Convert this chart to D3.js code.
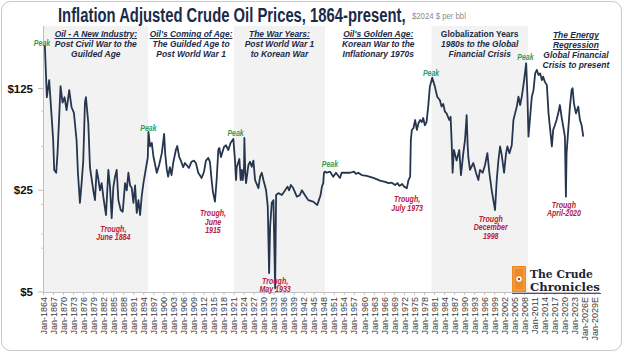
<!DOCTYPE html>
<html>
<head>
<meta charset="utf-8">
<script src="https://cdn.jsdelivr.net/npm/d3@7"></script>
<style>
  body { margin: 0; background: #fff; }
  svg { display: block; font-family: "Liberation Sans", Arial, sans-serif; }
</style>
</head>
<body>
<div id="chart"></div>
<script>
// Inflation adjusted crude oil price, $2024 per bbl
const years = [
  1864.4, 1865.0, 1865.7, 1866.5, 1866.9, 1867.2, 1867.8, 1868.2, 1869.1, 1869.7,
  1870.3, 1870.9, 1871.7, 1872.4, 1873.1, 1873.9, 1874.3, 1874.9, 1875.4, 1875.9,
  1876.4, 1876.7, 1877.4, 1877.9, 1878.9, 1879.4, 1879.9, 1880.4, 1880.9, 1881.4,
  1881.9, 1882.7, 1883.4, 1883.9, 1884.4, 1884.9, 1885.4, 1885.9, 1886.4, 1887.1,
  1887.7, 1888.4, 1888.9, 1889.4, 1889.9, 1890.4, 1890.9, 1891.4, 1891.9, 1892.4,
  1892.9, 1893.4, 1893.9, 1894.7, 1895.2, 1895.4,
  1895.9, 1896.4, 1896.9, 1897.9, 1898.6, 1899.4, 1900.1, 1900.4, 1900.9, 1901.3,
  1901.8, 1902.3, 1902.8, 1903.6, 1904.0, 1904.6, 1905.1, 1905.8, 1906.3, 1906.8,
  1907.5, 1908.3, 1909.0, 1909.6, 1910.3, 1911.3, 1912.0, 1912.6, 1913.3, 1913.8,
  1914.3, 1914.7, 1915.3, 1915.8, 1916.3, 1916.6, 1917.1, 1918.0, 1918.6, 1919.3,
  1920.0, 1920.8,
  1921.3, 1921.6, 1921.8, 1922.6, 1923.0, 1923.3, 1923.6, 1924.0, 1924.1, 1924.4,
  1924.6, 1925.3, 1925.8, 1926.3, 1926.8, 1927.3, 1928.3, 1928.8, 1929.3, 1929.8,
  1930.6, 1931.1, 1931.5, 1931.8, 1932.3, 1932.8, 1933.3, 1933.6, 1934.3, 1935.3,
  1936.3, 1937.0, 1937.5, 1938.0, 1938.7, 1939.8, 1940.7, 1941.3, 1942.2, 1943.2,
  1944.7, 1945.9, 1946.4, 1946.9, 1947.3, 1947.7, 1947.9, 1948.2,
  1948.7, 1949.7, 1950.7, 1951.5, 1952.7, 1953.2, 1954.2, 1955.7, 1956.9, 1957.5,
  1958.2, 1959.2, 1960.7, 1962.7, 1964.7, 1966.2, 1967.2, 1968.2, 1969.2, 1969.9,
  1970.5, 1971.3, 1971.9, 1972.7, 1973.2, 1973.7, 1973.9,
  1974.2, 1974.7, 1975.2, 1975.7, 1976.2, 1976.7, 1977.2, 1977.6, 1978.1, 1978.6,
  1979.1, 1979.6, 1980.3, 1981.1, 1981.8, 1982.6, 1983.1, 1983.6, 1984.1, 1984.6,
  1985.4, 1985.8, 1986.1, 1986.4, 1986.8, 1987.6, 1988.4, 1988.9, 1989.6, 1990.1,
  1990.6, 1990.9, 1991.1, 1991.6, 1992.6, 1993.4, 1994.1, 1994.6, 1995.4, 1996.1,
  1996.8, 1997.4, 1998.1, 1999.1, 1999.6, 2000.1, 2000.6, 2001.1, 2001.8, 2002.4,
  2002.8, 2003.4, 2004.1, 2004.6, 2005.6, 2006.1, 2006.6, 2007.1, 2007.8, 2008.4,
  2008.8, 2009.1,
  2009.6, 2010.1, 2010.6, 2011.1, 2011.6, 2012.1, 2012.6, 2013.1, 2013.5, 2014.0,
  2014.6, 2015.1, 2015.6, 2016.1, 2016.5, 2017.0, 2017.5, 2018.0, 2018.5, 2019.0,
  2019.5, 2020.0, 2020.3, 2020.5, 2021.0, 2021.5, 2022.0, 2022.3, 2022.7, 2023.3,
  2024.0, 2024.5, 2025.0, 2025.5
];
const prices = [
  249, 109, 143, 76, 55, 34.5, 33, 45, 130, 100,
  109, 89, 122, 93, 85, 55, 33, 20.5, 28, 40,
  100, 109, 72.5, 36, 25, 21.4, 34.5, 30, 25, 28,
  22.5, 16.9, 34.5, 26.3, 16.1, 26.3, 31, 34.5, 21.4, 18.3,
  17.8, 28, 25, 33, 27, 26, 20.5, 27, 17.5, 21.4,
  16.9, 23, 28, 36, 42, 63,
  50, 53, 42.5, 33, 37.3, 45, 61, 45, 34.5, 31,
  36, 31.8, 38.5, 47.3, 50.4, 42.5, 40, 36, 38.5, 37.3,
  35.6, 39.3, 40, 38.5, 33, 30.4, 33.4, 40, 41.7, 39.1,
  29.4, 24.3, 20.9, 29.4, 47.3, 48.8, 42.3, 49.6, 51, 47.3,
  53, 56.3,
  40, 29.4, 36, 41, 29.4, 34.5, 29.4, 36.3, 57.2, 31.8,
  28, 37.3, 39.3, 36.3, 40, 29.4, 25.9, 31, 33, 29.4,
  25, 19.3, 6.75, 14.1, 20.5, 21.4, 5.3, 23.2, 23.9, 23.2,
  25, 26.5, 25, 27.2, 25.9, 22.6, 23.2, 25, 23.2, 21.4,
  20.9, 19.8, 21.4, 23.2, 26.5, 28, 33, 33.6,
  33, 33.6, 31, 33, 30.4, 33, 33, 33, 33.6, 32.4,
  33, 31.8, 31.4, 30.4, 29.1, 28.6, 28, 28.2, 27.2, 28,
  26.8, 27.6, 26.5, 25.8, 29.4, 31, 55,
  64.9, 67, 76, 65, 72.5, 76, 73.6, 78.5, 70, 73.6,
  94, 129, 148.6, 129, 110, 104, 94, 98, 86.7, 84.5,
  76, 80, 55, 33, 47.3, 40, 47.3, 31.8, 45, 55,
  82, 51, 42.5, 34.5, 38.5, 33, 29.4, 34.5, 33, 37.3,
  45, 33, 25, 18.3, 29.4, 40, 50, 43.7, 33, 45,
  50, 45, 51, 76, 94, 110, 96.4, 110, 143, 186.6,
  110, 58.4,
  80, 110, 122, 159, 168, 155, 159, 143, 151, 139,
  132, 84.5, 65, 50, 65, 70, 76, 84.5, 96.4, 80,
  68.4, 58.4, 22.6, 45, 65, 94, 122, 125.6, 99, 84.5,
  94, 76, 70, 58.4
];

const tickLabels = [
  "Jan-1864", "Jan-1867", "Jan-1870", "Jan-1873", "Jan-1876", "Jan-1879", "Jan-1882", "Jan-1885",
  "Jan-1888", "Jan-1891", "Jan-1894", "Jan-1897", "Jan-1900", "Jan-1903", "Jan-1906", "Jan-1909",
  "Jan-1912", "Jan-1915", "Jan-1918", "Jan-1921", "Jan-1924", "Jan-1927", "Jan-1930", "Jan-1933",
  "Jan-1936", "Jan-1939", "Jan-1942", "Jan-1945", "Jan-1948", "Jan-1951", "Jan-1954", "Jan-1957",
  "Jan-1960", "Jan-1963", "Jan-1966", "Jan-1969", "Jan-1972", "Jan-1975", "Jan-1978", "Jan-1981",
  "Jan-1984", "Jan-1987", "Jan-1990", "Jan-1993", "Jan-1996", "Jan-1999", "Jan-2002", "Jan-2005",
  "Jan-2008", "Jan-2011", "Jan-2014", "Jan-2017", "Jan-2020", "Jan-2023", "Jan-2026E", "Jan-2029E"
];
const yTicks = [5, 25, 125];
const yMinorTicks = [10, 12.5, 20, 50, 87.5];

// eras
const eraStarts = [1864, 1895.3, 1921, 1948.2, 1980.1, 2008.9];
const eraTitles = [
  ["Oil - A New Industry:"],
  ["Oil's Coming of Age:"],
  ["The War Years:"],
  ["Oil's Golden Age:"],
  ["Globalization Years"],
  ["The Energy", "Regression"]
];
const eraText = [
  ["Post Civil War to the", "Guilded Age"],
  ["The Guilded Age to", "Post World War 1"],
  ["Post World War 1", "to Korean War"],
  ["Korean War to the", "Inflationary 1970s"],
  ["1980s to the Global", "Financial Crisis"],
  ["Global Financial", "Crisis to present"]
];

// annotations: [year, price] where the label sits
const peakAt = [[1863.55, 257], [1895.4, 67.5], [1921.45, 62.2], [1949.7, 37.9], [1979.95, 161], [2008.2, 207]];
const troughAt = [[1884.9, 13.6], [1914.7, 17.4], [1933.3, 5.95], [1972.8, 21.7], [1997.8, 15.9], [2019.7, 19.8]];
const troughText = [
  ["Trough,", "June 1884"],
  ["Trough,", "June", "1915"],
  ["Trough,", "May 1933"],
  ["Trough,", "July 1973"],
  ["Trough", "December", "1998"],
  ["Trough", "April-2020"]
];

const W = 624, H = 354;
const navy = "#1b2a47";

const svg = d3.select("#chart").append("svg")
  .attr("width", W)
  .attr("height", H);

// frame
svg.append("rect")
  .attr("x", 1.5).attr("y", 1.5)
  .attr("width", W - 4).attr("height", H - 5)
  .attr("rx", 9)
  .attr("fill", "#fff")
  .attr("stroke", "#c9c9c9");

const x = d3.scaleLinear().domain([1864, 2030.5]).range([43.5, 600]);
const y = d3.scaleLog().domain([5, 274]).range([292, 39]);

const plotTop = 26, plotBottom = 292;

// shaded era bands
eraStarts.forEach((s, i) => {
  if (i % 2 === 1) return;
  const e = eraStarts[i + 1];
  svg.append("rect")
    .attr("x", x(s))
    .attr("y", plotTop)
    .attr("width", x(e) - x(s))
    .attr("height", plotBottom - plotTop)
    .attr("fill", "#f2f2f2");
});

// squeeze a text horizontally so it spans the wanted width
function fitWidth(t, x0, y0, width) {
  const len = t.node().getComputedTextLength();
  t.attr("transform", `translate(${x0},${y0}) scale(${width / len},1)`);
  return t;
}

// title
const title = svg.append("text")
  .attr("font-size", 21)
  .attr("font-weight", "bold")
  .attr("fill", navy)
  .text("Inflation Adjusted Crude Oil Prices, 1864-present,");
fitWidth(title, 58, 22, 348);

const unit = svg.append("text")
  .attr("font-size", 8.5)
  .attr("fill", "#8c8c8c")
  .text("$2024 $ per bbl");
fitWidth(unit, 412, 19, 54);

// narrow text helper
function narrowText(g, cx, cy, str, opt) {
  return g.append("text")
    .attr("transform", `translate(${cx},${cy}) scale(${opt.sx || 0.82},1)`)
    .attr("text-anchor", "middle")
    .attr("font-size", opt.size)
    .attr("font-weight", "bold")
    .attr("font-style", opt.italic === false ? "normal" : "italic")
    .attr("fill", opt.color)
    .style("text-decoration", opt.underline ? "underline" : null)
    .text(str);
}

// era labels
const eraG = svg.append("g");
eraStarts.forEach((s, i) => {
  const x0 = x(s);
  const x1 = i + 1 < eraStarts.length ? x(eraStarts[i + 1]) : W;
  const cx = (x0 + x1) / 2;
  let by = i === 5 ? 38 : 37;
  eraTitles[i].forEach(t => {
    narrowText(eraG, cx, by, t, { size: 9.6, sx: 0.88, color: navy, underline: i !== 4, italic: i !== 4 });
    by += 10;
  });
  eraText[i].forEach(t => {
    narrowText(eraG, cx, by, t, { size: 9.6, sx: 0.88, color: navy });
    by += 10;
  });
});

// axes
svg.append("line")
  .attr("x1", 43.5).attr("x2", 43.5)
  .attr("y1", plotTop).attr("y2", plotBottom)
  .attr("stroke", "#bfbfbf");
svg.append("line")
  .attr("x1", 43.5).attr("x2", 600)
  .attr("y1", plotBottom + 0.5).attr("y2", plotBottom + 0.5)
  .attr("stroke", "#bfbfbf");

yTicks.forEach(v => {
  svg.append("line")
    .attr("x1", 38).attr("x2", 43.5)
    .attr("y1", y(v)).attr("y2", y(v))
    .attr("stroke", "#bfbfbf");
  svg.append("text")
    .attr("x", 33).attr("y", y(v))
    .attr("dy", "0.36em")
    .attr("text-anchor", "end")
    .attr("font-size", 11.5)
    .attr("font-weight", "bold")
    .attr("fill", "#111")
    .text("$" + v);
});
yMinorTicks.forEach(v => {
  svg.append("line")
    .attr("x1", 41).attr("x2", 43.5)
    .attr("y1", y(v)).attr("y2", y(v))
    .attr("stroke", "#c8c8c8");
});

tickLabels.forEach(lbl => {
  const yr = +lbl.slice(4, 8);
  const tx = x(yr);
  svg.append("line")
    .attr("x1", tx).attr("x2", tx)
    .attr("y1", plotBottom).attr("y2", plotBottom + 3)
    .attr("stroke", "#bfbfbf");
  svg.append("text")
    .attr("transform", `translate(${tx},${plotBottom + 5}) rotate(-90)`)
    .attr("dy", "0.35em")
    .attr("text-anchor", "end")
    .attr("font-size", 9)
    .attr("fill", "#404040")
    .text(lbl);
});

// price line
const series = years.map((yr, i) => ({ year: yr, price: prices[i] }));
const line = d3.line()
  .x(d => x(d.year))
  .y(d => y(d.price));

svg.append("path")
  .datum(series)
  .attr("fill", "none")
  .attr("stroke", "#26364f")
  .attr("stroke-width", 1.8)
  .attr("stroke-linejoin", "round")
  .attr("d", line);

// peak / trough labels
const annG = svg.append("g");
peakAt.forEach(p => {
  narrowText(annG, x(p[0]), y(p[1]) + 3, "Peak", { size: 8.5, color: "#2e9e5b" });
});
troughAt.forEach((p, i) => {
  let ty = y(p[1]) + 3;
  troughText[i].forEach(t => {
    narrowText(annG, x(p[0]), ty, t, { size: 8.2, sx: 0.86, color: "#b8203a" });
    ty += 8.4;
  });
});

// logo
const logo = svg.append("g");
logo.append("rect")
  .attr("x", 512).attr("y", 266)
  .attr("width", 14).attr("height", 26)
  .attr("fill", "#ee8a26");
logo.append("rect")
  .attr("x", 514).attr("y", 268)
  .attr("width", 10).attr("height", 22)
  .attr("fill", "none")
  .attr("stroke", "#f6b06a")
  .attr("stroke-width", 0.8);
logo.append("circle")
  .attr("cx", 519).attr("cy", 279).attr("r", 2.8)
  .attr("fill", "#fff");
logo.append("circle")
  .attr("cx", 519).attr("cy", 279).attr("r", 1.1)
  .attr("fill", "#333");
const brand1 = logo.append("text")
  .attr("font-family", "'DejaVu Serif', serif")
  .attr("font-size", 11)
  .attr("font-weight", "bold")
  .attr("fill", "#1c2533")
  .text("The Crude");
fitWidth(brand1, 530, 277.5, 63);
const brand2 = logo.append("text")
  .attr("font-family", "'DejaVu Serif', serif")
  .attr("font-size", 11)
  .attr("font-weight", "bold")
  .attr("fill", "#1c2533")
  .text("Chronicles");
fitWidth(brand2, 530, 290.5, 70);
logo.append("line")
  .attr("x1", 512).attr("x2", 601)
  .attr("y1", 293.5).attr("y2", 293.5)
  .attr("stroke", "#555");
</script>
</body>
</html>
